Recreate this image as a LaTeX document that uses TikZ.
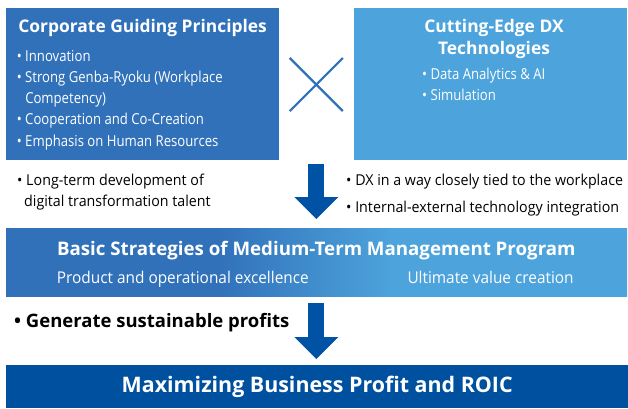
\documentclass[tikz,border=0pt]{standalone}
\usepackage{fontspec}
\setmainfont{Open Sans}[FakeStretch=0.95, BoldFeatures={FakeStretch=1.0}]
\newfontfamily\narrowfont{Open Sans}[FakeStretch=0.87]
\usetikzlibrary{arrows.meta,positioning}

\definecolor{guideblue}{RGB}{49,113,186}
\definecolor{dxblue}{RGB}{77,163,219}
\definecolor{arrowblue}{RGB}{0,82,164}
\definecolor{roicblue}{RGB}{0,80,160}
\pgfdeclarehorizontalshading{bandshade}{100bp}{color(0bp)=(guideblue); color(42bp)=(guideblue); color(56bp)=(dxblue); color(100bp)=(dxblue)}

\begin{document}
\begin{tikzpicture}[
        x=1pt, y=-1pt,
        box/.style={
            rectangle,
            anchor=north west,
            inner sep=0pt,
            minimum width=273pt,
            minimum height=152pt
        },
        title/.style={
            text=white,
            align=center,
            inner sep=0pt,
            font=\fontsize{17.4}{22}\selectfont\bfseries
        },
        item/.style={
            anchor=base west,
            align=left,
            inner sep=0pt,
            font=\fontsize{15}{21.25}\selectfont
        },
        boxitem/.style={
            item,
            text=white,
            font=\narrowfont\fontsize{15.1}{21.25}\selectfont
        },
        band/.style={
            rectangle,
            anchor=north west,
            inner sep=0pt,
            minimum width=621pt
        },
        crossline/.style={draw=guideblue, line width=2.2pt},
        bigarrow/.style={draw=arrowblue, line width=16pt, -{Triangle[length=22pt, width=44pt, line width=0pt 0]}}
    ]
        \useasboundingbox (0,0) rectangle (628,408);

        % -- Węzły (Nodes) --
        % (base = linia bazowa ostatniego wiersza / last line's baseline)

        % Górne pola (Top boxes)
        \node [box, fill=guideblue] (guide) at (6,8) {};
        \node [box, fill=dxblue] (dx) at (354,8) {};
        \node [title, anchor=base] (guide_title) at (142.6,32.3) {Corporate Guiding Principles};
        \node [boxitem] (guide_list) at (16.7,146) {• Innovation\\• Strong Genba-Ryoku (Workplace\\\hphantom{• }Competency)\\• Cooperation and Co-Creation\\• Emphasis on Human Resources};
        \node [title, anchor=base] (dx_title) at (494,54.3) {Cutting-Edge DX\\Technologies};
        \node [boxitem] (dx_list) at (422,100.7) {• Data Analytics \& AI\\• Simulation};

        % Znak mnożenia (Cross)
        \node [minimum size=52.7pt, inner sep=0pt] (times) at (316.3,84.5) {};

        % Opisy przy strzałce (Notes)
        \node [item] (talent) at (17,206.7) {• Long-term development of\\\hspace*{7pt}digital transformation talent};
        \node [item, font=\fontsize{15}{26.6}\selectfont] (workplace) at (346,212.3) {• DX in a way closely tied to the workplace\\• Internal-external technology integration};

        % Pas strategii (Strategy band)
        \node [band, shading=bandshade, minimum height=68pt] (strategy) at (6,228) {};
        \node [title, anchor=base, font=\fontsize{18.7}{22}\selectfont\bfseries] (strategy_title) at (316.3,255.7) {Basic Strategies of Medium-Term Management Program};
        \node [item, text=white, font=\fontsize{16.2}{20}\selectfont] (excellence) at (56.7,283.3) {Product and operational excellence};
        \node [item, text=white, font=\fontsize{16.2}{20}\selectfont] (value) at (407.3,283.3) {Ultimate value creation};

        % Zysk (Profits)
        \node [item, font=\fontsize{18.5}{21}\selectfont\bfseries] (profits) at (14,327) {• Generate sustainable profits};

        % Wynik (Result)
        \node [band, fill=roicblue, minimum height=43pt, minimum width=622pt] (roic) at (6,365) {};
        \node [title, font=\fontsize{21.4}{24}\selectfont\bfseries] (roic_title) at (roic.center) {Maximizing Business Profit and ROIC};

        % -- Ścieżki (Paths) --

        \path [crossline] (times.north west) -- (times.south east);
        \path [crossline] (times.north east) -- (times.south west);

        \path [bigarrow, shorten <=4pt, shorten >=9pt] (times |- guide.south) -- (times |- strategy.north);
        \path [bigarrow, shorten <=7pt, shorten >=6pt] (times |- strategy.south) -- (times |- roic.north);

    \end{tikzpicture}
\end{document}
